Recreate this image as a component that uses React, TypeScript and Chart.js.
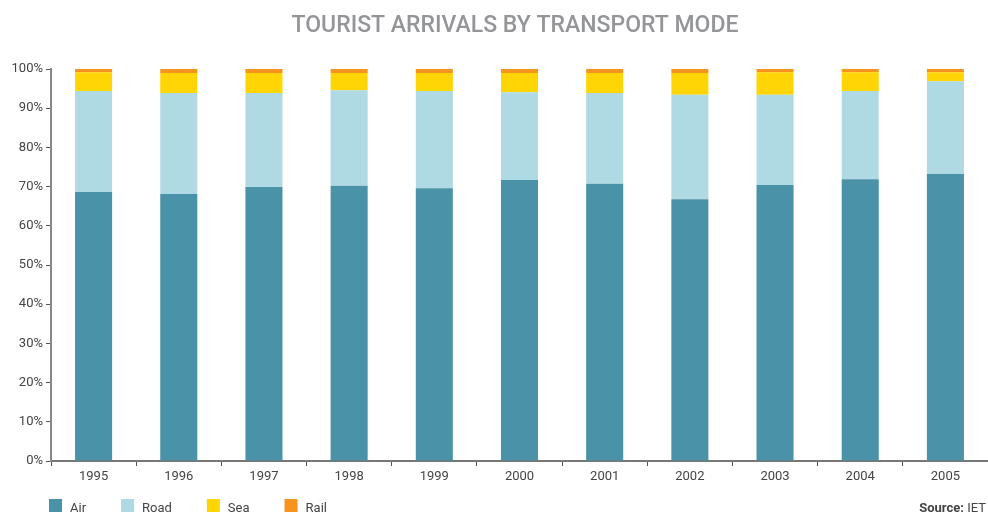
import React, { useEffect, useRef } from "react";
import { Chart, registerables } from "chart.js";

Chart.register(...registerables);

const years = ["1995", "1996", "1997", "1998", "1999", "2000", "2001", "2002", "2003", "2004", "2005"];
const air = [68.6, 68.1, 69.9, 70.2, 69.6, 71.7, 70.7, 66.8, 70.4, 71.9, 73.2];
const road = [25.8, 25.8, 24.0, 24.4, 24.8, 22.4, 23.2, 26.6, 23.0, 22.5, 23.7];
const sea = [4.8, 5.1, 5.1, 4.4, 4.6, 4.9, 5.1, 5.6, 5.8, 4.8, 2.3];
const rail = [0.8, 1.0, 1.0, 1.0, 1.0, 1.0, 1.0, 1.0, 0.8, 0.8, 0.8];
const seriesNames = ["Air", "Road", "Sea", "Rail"];
const seriesColors = ["#4A92A8", "#B0DAE3", "#FFD505", "#F7941D"];
const titleText = "TOURIST ARRIVALS BY TRANSPORT MODE";
const sourceLabel = "Source:";
const sourceValue = " IET";

const FONT = "Roboto, 'DejaVu Sans', sans-serif";

const decorPlugin = {
  id: "decor",
  afterDraw(chart: any) {
    const ctx = chart.ctx as CanvasRenderingContext2D;
    const W = chart.width;
    ctx.save();
    // title
    ctx.fillStyle = "#939598";
    ctx.font = `500 23px ${FONT}`;
    ctx.textAlign = "center";
    ctx.textBaseline = "alphabetic";
    ctx.fillText(titleText, 515, 32);

    // legend
    ctx.font = `13px ${FONT}`;
    ctx.textAlign = "left";
    let x = 49;
    chart.data.datasets.forEach((ds: any) => {
      ctx.fillStyle = ds.backgroundColor;
      ctx.fillRect(x, 499, 13, 13);
      ctx.fillStyle = "#444";
      ctx.fillText(ds.label, x + 21, 512);
      x += 21 + ctx.measureText(ds.label).width + 35;
    });

    // source
    ctx.textAlign = "right";
    ctx.font = `13px ${FONT}`;
    const vw = ctx.measureText(sourceValue).width;
    ctx.fillStyle = "#444";
    ctx.fillText(sourceValue, W - 2, 512);
    ctx.font = `bold 13px ${FONT}`;
    ctx.fillText(sourceLabel, W - 2 - vw, 512);
    ctx.restore();
  },
};

export default function App() {
  const ref = useRef<HTMLCanvasElement>(null);
  useEffect(() => {
    if (!ref.current) return;
    const values = [air, road, sea, rail];
    const chart = new Chart(ref.current, {
      type: "bar",
      data: {
        labels: years,
        datasets: seriesNames.map((n, i) => ({
          label: n,
          data: values[i],
          backgroundColor: seriesColors[i],
          borderWidth: 0,
          barPercentage: 0.87,
          categoryPercentage: 0.5,
        })),
      },
      options: {
        responsive: false,
        animation: false,
        layout: { padding: { top: 69, left: 0, right: 0, bottom: 0 } },
        plugins: {
          legend: { display: false },
          title: { display: false },
          tooltip: { enabled: false },
        },
        scales: {
          x: {
            stacked: true,
            afterFit: (s: any) => {
              s.height = 53;
            },
            grid: {
              display: true,
              drawOnChartArea: false,
              drawTicks: true,
              tickLength: 5,
              color: "#555",
              offset: true,
            },
            border: { display: true, color: "#777", width: 2 },
            ticks: { color: "#444", font: { family: FONT, size: 13 }, padding: 3 },
          },
          y: {
            stacked: true,
            min: 0,
            max: 100,
            afterFit: (s: any) => {
              s.width = 51;
            },
            grid: {
              display: true,
              drawOnChartArea: false,
              drawTicks: true,
              tickLength: 5,
              color: "#555",
            },
            border: { display: true, color: "#888", width: 2 },
            ticks: {
              stepSize: 10,
              color: "#444",
              padding: 3,
              font: { family: FONT, size: 13 },
              callback: (v: any) => v + "%",
            },
          },
        },
      },
      plugins: [decorPlugin],
    });
    return () => chart.destroy();
  }, []);
  return (
    <div style={{ position: "absolute", left: 0, top: 0, width: 988, height: 514, background: "#fff" }}>
      <canvas ref={ref} width={988} height={514} />
    </div>
  );
}
